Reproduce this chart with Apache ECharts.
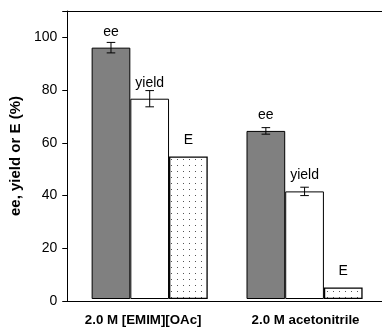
<!DOCTYPE html>
<html><head><meta charset="utf-8">
<script src="https://cdn.jsdelivr.net/npm/echarts@6/dist/echarts.min.js"></script>
<style>html,body{margin:0;padding:0;background:#fff}#c{width:382px;height:327px}</style>
</head><body><div id="c"></div>
<script>
var categories = ['2.0 M [EMIM][OAc]', '2.0 M acetonitrile'];
var eeValues = [96.0, 64.2];
var eeErrors = [2.0, 1.25];
var yieldValues = [76.5, 41.1];
var yieldErrors = [3.1, 1.6];
var eValues = [54.4, 4.4];
var yTicks = [0, 20, 40, 60, 80, 100];

var chart = echarts.init(document.getElementById('c'), null, {renderer: 'canvas'});
var FONT = 'Liberation Sans, Arial, Helvetica, sans-serif';
var BW = 38.7;

var pc = document.createElement('canvas');
pc.width = 6; pc.height = 6;
var pctx = pc.getContext('2d');
pctx.fillStyle = '#fff'; pctx.fillRect(0, 0, 6, 6);
pctx.fillStyle = '#555'; pctx.fillRect(3, 3, 1, 1);

function errSeries(vals, errs, idx) {
  return {
    type: 'custom', xAxisIndex: 2, yAxisIndex: 1, z: 10,
    data: vals.map(function (v, i) { return [i, v - errs[i], v + errs[i]]; }),
    renderItem: function (params, api) {
      var lo = api.coord([api.value(0), api.value(1)]);
      var hi = api.coord([api.value(0), api.value(2)]);
      var x = lo[0] + (idx - 1) * BW;
      var s = {stroke: '#000', lineWidth: 1};
      var hw = 4.3;
      return {type: 'group', children: [
        {type: 'line', shape: {x1: x, y1: lo[1], x2: x, y2: hi[1]}, style: s},
        {type: 'line', shape: {x1: x - hw, y1: lo[1], x2: x + hw, y2: lo[1]}, style: s},
        {type: 'line', shape: {x1: x - hw, y1: hi[1], x2: x + hw, y2: hi[1]}, style: s}
      ]};
    }
  };
}

function barLabel(name) {
  return {show: true, position: 'top', distance: 9, formatter: name,
          color: '#000', fontSize: 14, fontFamily: FONT};
}

chart.setOption({
  animation: false,
  backgroundColor: '#fff',
  grid: [
    {left: 63, right: -2, top: 11, bottom: 26},
    {left: 72.25, right: -1.25, top: 11, bottom: 26}
  ],
  xAxis: [
    {type: 'value', gridIndex: 0, position: 'bottom', min: 0, max: 1,
     axisLine: {show: true, lineStyle: {color: '#000', width: 1}},
     axisTick: {show: false}, axisLabel: {show: false}, splitLine: {show: false}},
    {type: 'value', gridIndex: 0, position: 'top', min: 0, max: 1,
     axisLine: {show: true, lineStyle: {color: '#000', width: 1}},
     axisTick: {show: false}, axisLabel: {show: false}, splitLine: {show: false}},
    {type: 'category', gridIndex: 1, data: categories,
     axisLine: {show: false}, axisTick: {show: false},
     axisLabel: {interval: 0, margin: 15, color: '#000', fontSize: 13.3, fontWeight: 'bold', fontFamily: FONT,
       formatter: function (v, i) { return i === 0 ? '{a|' + v + '}' : '{b|' + v + '}'; },
       rich: {
         a: {fontSize: 13.3, fontWeight: 'bold', fontFamily: FONT, color: '#000', padding: [0, 13, 0, 0]},
         b: {fontSize: 13.3, fontWeight: 'bold', fontFamily: FONT, color: '#000', padding: [0, 0, 0, 2]}
       }}}
  ],
  yAxis: [
    {type: 'value', gridIndex: 0, min: 0, max: 110, interval: 20,
     name: 'ee, yield or E (%)', nameLocation: 'middle', nameRotate: 90, nameGap: 34,
     nameTextStyle: {fontSize: 15, fontWeight: 'bold', color: '#000', fontFamily: FONT},
     axisLine: {show: true, lineStyle: {color: '#000', width: 1}},
     axisTick: {show: true, length: 5, lineStyle: {color: '#000'}},
     axisLabel: {margin: 10, color: '#000', fontSize: 14, fontFamily: FONT,
       formatter: function (v) { return yTicks.indexOf(v) >= 0 ? String(v) : ''; }},
     splitLine: {show: false}},
    {type: 'value', gridIndex: 1, min: 0, max: 110, show: false, splitLine: {show: false}}
  ],
  series: [
    {type: 'bar', name: 'ee', xAxisIndex: 2, yAxisIndex: 1, data: eeValues,
     barWidth: BW, barGap: '0%',
     itemStyle: {color: '#808080', borderColor: '#000', borderWidth: 1},
     label: barLabel('ee')},
    {type: 'bar', name: 'yield', xAxisIndex: 2, yAxisIndex: 1, data: yieldValues,
     barWidth: BW, barGap: '0%',
     itemStyle: {color: '#fff', borderColor: '#000', borderWidth: 1},
     label: barLabel('yield')},
    {type: 'bar', name: 'E', xAxisIndex: 2, yAxisIndex: 1, data: eValues,
     barWidth: BW, barGap: '0%',
     itemStyle: {color: {image: pc, repeat: 'repeat'}, borderColor: '#000', borderWidth: 1.3},
     label: barLabel('E')},
    errSeries(eeValues, eeErrors, 0),
    errSeries(yieldValues, yieldErrors, 1)
  ]
});
</script></body></html>
